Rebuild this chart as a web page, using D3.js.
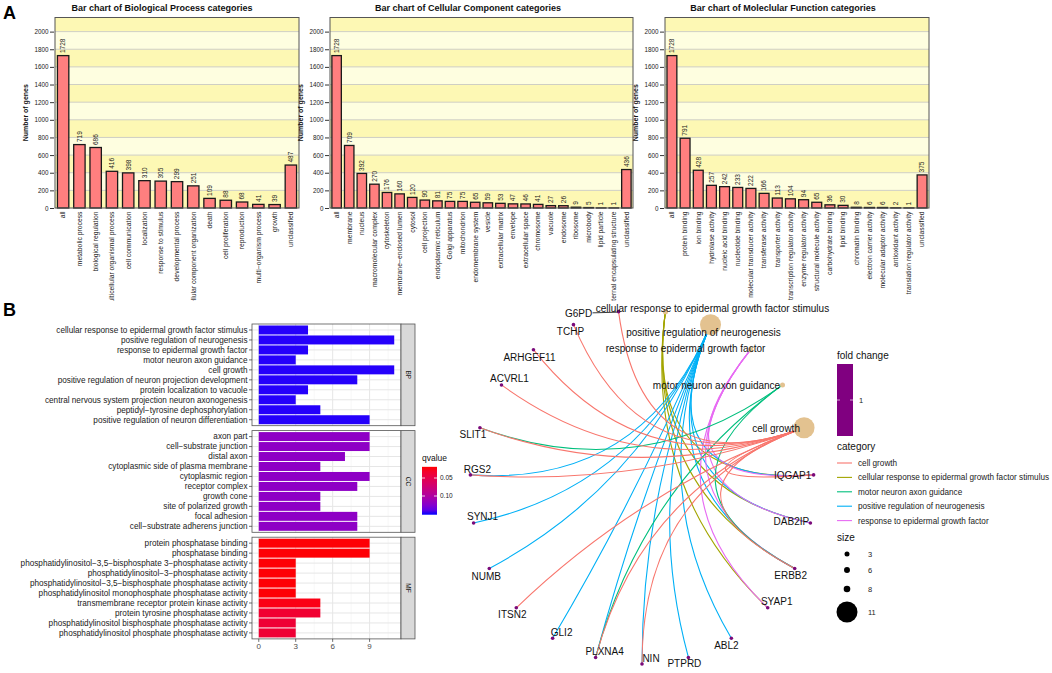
<!DOCTYPE html>
<html><head><meta charset="utf-8">
<script src="https://cdn.jsdelivr.net/npm/d3@7"></script>
<style>body{margin:0;background:#fff} svg{display:block;font-family:"Liberation Sans",Arial,Helvetica,sans-serif}</style>
</head><body><svg id="c" width="1052" height="673"></svg>
<script>
// ---------------- DATA: Panel A (GO slim category counts) ----------------
const bpCategories = ["all","metabolic process","biological regulation","multicellular organismal process","cell communication","localization","response to stimulus","developmental process","cellular component organization","death","cell proliferation","reproduction","multi\u2212organism process","growth","unclassified"];
const bpGeneCounts = [1728,719,686,416,398,310,305,299,251,109,88,68,41,39,487];

const ccCategories = ["all","membrane","nucleus","macromolecular complex","cytoskeleton","membrane\u2212enclosed lumen","cytosol","cell projection","endoplasmic reticulum","Golgi apparatus","mitochondrion","endomembrane system","vesicle","extracellular matrix","envelope","extracellular space","chromosome","vacuole","endosome","ribosome","microbody","lipid particle","external encapsulating structure","unclassified"];
const ccGeneCounts = [1728,709,392,270,176,160,120,90,81,75,75,65,59,53,47,46,41,27,26,9,5,1,1,436];

const mfCategories = ["all","protein binding","ion binding","hydrolase activity","nucleic acid binding","nucleotide binding","molecular transducer activity","transferase activity","transporter activity","transcription regulator activity","enzyme regulator activity","structural molecule activity","carbohydrate binding","lipid binding","chromatin binding","electron carrier activity","molecular adaptor activity","antioxidant activity","translation regulator activity","unclassified"];
const mfGeneCounts = [1728,791,428,257,242,233,222,166,113,104,94,65,36,30,8,6,6,2,1,375];

const goYTicks = [0,200,400,600,800,1000,1200,1400,1600,1800,2000];

// ---------------- DATA: Panel B enrichment bars ----------------
const enrichBPTerms = ["cellular response to epidermal growth factor stimulus","positive regulation of neurogenesis","response to epidermal growth factor","motor neuron axon guidance","cell growth","positive regulation of neuron projection development","protein localization to vacuole","central nervous system projection neuron axonogenesis","peptidyl\u2212tyrosine dephosphorylation","positive regulation of neuron differentiation"];
const enrichBPCounts = [4,11,4,3,11,8,4,3,5,9];
const enrichBPQ = [0.15,0.15,0.15,0.15,0.15,0.15,0.15,0.15,0.15,0.15];

const enrichCCTerms = ["axon part","cell\u2212substrate junction","distal axon","cytoplasmic side of plasma membrane","cytoplasmic region","receptor complex","growth cone","site of polarized growth","focal adhesion","cell\u2212substrate adherens junction"];
const enrichCCCounts = [9,9,7,5,9,8,5,5,8,8];
const enrichCCQ = [0.12,0.12,0.12,0.12,0.12,0.12,0.12,0.12,0.12,0.12];

const enrichMFTerms = ["protein phosphatase binding","phosphatase binding","phosphatidylinositol\u22123,5\u2212bisphosphate 3\u2212phosphatase activity","phosphatidylinositol\u22123\u2212phosphatase activity","phosphatidylinositol\u22123,5\u2212bisphosphate phosphatase activity","phosphatidylinositol monophosphate phosphatase activity","transmembrane receptor protein kinase activity","protein tyrosine phosphatase activity","phosphatidylinositol bisphosphate phosphatase activity","phosphatidylinositol phosphate phosphatase activity"];
const enrichMFCounts = [9,9,3,3,3,3,5,5,3,3];
const enrichMFQ = [0.02,0.02,0.02,0.02,0.02,0.02,0.024,0.036,0.038,0.038];

const countTicks = [0,3,6,9];
const qLegendTicks = [0.05,0.10];

// ---------------- DATA: Panel B gene-concept network ----------------
const netCategories = ["cellular response to epidermal growth factor stimulus","positive regulation of neurogenesis","response to epidermal growth factor","motor neuron axon guidance","cell growth"];
const netCategorySizes = [4,11,4,3,11];
const netGenes = ["IQGAP1","DAB2IP","ERBB2","SYAP1","ABL2","PTPRD","NIN","PLXNA4","GLI2","ITSN2","NUMB","SYNJ1","RGS2","SLIT1","ACVRL1","ARHGEF11","TCHP","G6PD"];
const genesEGFStimulus = ["IQGAP1","DAB2IP","ERBB2","SYAP1"];
const genesNeurogenesis = ["RGS2","SYNJ1","NUMB","GLI2","PLXNA4","NIN","PTPRD","ABL2","DAB2IP","ERBB2","IQGAP1"];
const genesResponseEGF = ["IQGAP1","DAB2IP","ERBB2","SYAP1"];
const genesMotorNeuron = ["SLIT1","PLXNA4","ERBB2"];
const genesCellGrowth = ["G6PD","TCHP","ARHGEF11","ACVRL1","SLIT1","RGS2","ITSN2","PLXNA4","NIN","IQGAP1","ERBB2"];
const netMembership = [genesEGFStimulus, genesNeurogenesis, genesResponseEGF, genesMotorNeuron, genesCellGrowth];
const sizeLegendValues = [3,6,8,11];
const foldChangeValue = 1;

// ---------------- layout helpers (label repel nudges) ----------------
const geneLabelNudge = {IQGAP1:[-21,0],DAB2IP:[-19,-2],ERBB2:[-4,7],SYAP1:[9,-6],ABL2:[-5,7],PTPRD:[-4,6],NIN:[9,-6],PLXNA4:[9,-6],GLI2:[9,-6],ITSN2:[-4,7],NUMB:[-3,8],SYNJ1:[9,-7],RGS2:[7,-6],SLIT1:[-7,7],ACVRL1:[8,-7],ARHGEF11:[-4,8],TCHP:[-3,7],G6PD:[-40,2]};
const catLabelNudge = [[47,-3],[-7,8],[-65,-1],[-66,0],[-28,1]];

const svg = d3.select("#c");
const defs = svg.append("defs");
defs.append("clipPath").attr("id","clipA").append("rect").attr("x",0).attr("y",0).attr("width",1052).attr("height",301);

// ================= PANEL A =================
const gA = svg.append("g").attr("clip-path","url(#clipA)");
const goY = d3.scaleLinear().domain([0,2160]).range([208,17.5]);
const stripeDark = "#fdf8b4", stripeLight = "#fefee0";

function goChart(cats, vals, x0, x1, pad, title, titleX) {
  const g = gA.append("g");
  const x = d3.scaleBand().domain(cats).range([x0,x1]).paddingInner(pad).paddingOuter(0.15);
  const breaks = d3.range(0,2160,200);
  g.selectAll("rect.band").data(breaks).join("rect")
    .attr("x",x0).attr("width",x1-x0)
    .attr("y",d=>goY(Math.min(d+200,2160)))
    .attr("height",d=>goY(d)-goY(Math.min(d+200,2160)))
    .attr("fill",(d,i)=> i%2===0 ? stripeDark : stripeLight);
  g.selectAll("line.grid").data(goYTicks.slice(1)).join("line")
    .attr("x1",x0).attr("x2",x1).attr("y1",d=>goY(d)).attr("y2",d=>goY(d))
    .attr("stroke","#cfcfc4").attr("stroke-width",1);
  g.selectAll("rect.bar").data(vals).join("rect")
    .attr("x",(d,i)=>x(cats[i])).attr("width",x.bandwidth())
    .attr("y",d=>goY(d)).attr("height",d=>goY(0)-goY(d))
    .attr("fill","#ff7f7f").attr("stroke","#1a1a1a").attr("stroke-width",1.3);
  g.selectAll("text.val").data(vals).join("text")
    .attr("transform",(d,i)=>`translate(${x(cats[i])+x.bandwidth()/2+2.3},${goY(d)-2.5}) rotate(-90)`)
    .attr("font-size",6.5).attr("fill","#222").text(d=>d);
  g.append("rect").attr("x",x0).attr("y",17.5).attr("width",x1-x0).attr("height",208-17.5)
    .attr("fill","none").attr("stroke","#555").attr("stroke-width",1);
  const ax = g.append("g").attr("transform",`translate(${x0-1},0)`)
    .call(d3.axisLeft(goY).tickValues(goYTicks).tickFormat(d3.format("d")).tickSize(4).tickPadding(1.5));
  ax.select(".domain").remove();
  ax.selectAll("line").attr("stroke","#333");
  ax.selectAll("text").attr("font-size",6.3).attr("fill","#222").attr("font-family",null);
  g.selectAll("text.xl").data(cats).join("text")
    .attr("transform",d=>`translate(${x(d)+x.bandwidth()/2+2.3},211.5) rotate(-90)`)
    .attr("text-anchor","end").attr("font-size",6.8).attr("fill","#222").text(d=>d);
  g.append("text").attr("x",titleX).attr("y",11).attr("text-anchor","middle")
    .attr("font-size",9).attr("font-weight","bold").attr("fill","#111").text(title);
  g.append("text").attr("transform",`translate(${x0-27},${(17.5+208)/2}) rotate(-90)`)
    .attr("text-anchor","middle").attr("font-size",7).attr("font-weight","bold").attr("fill","#111")
    .text("Number of genes");
}
goChart(bpCategories,bpGeneCounts,55,299,0.3,"Bar chart of Biological Process categories",162);
goChart(ccCategories,ccGeneCounts,330,633,0.25,"Bar chart of Cellular Component categories",468);
goChart(mfCategories,mfGeneCounts,665,929,0.25,"Bar chart of Moleclular Function categories",783);

svg.append("text").attr("x",3).attr("y",18.5).attr("font-size",18).attr("font-weight","bold").text("A");
svg.append("text").attr("x",3).attr("y",316).attr("font-size",18).attr("font-weight","bold").text("B");

// ================= PANEL B: enrichment bar chart =================
const gB = svg.append("g");
const bx = d3.scaleLinear().domain([-0.55,11.55]).range([252,401]);
const qColor = d3.scaleLinear().domain([0.019,0.152]).range(["#ff0000","#0000ff"]).interpolate(d3.interpolateLab);
const facets = [
  {name:"BP",terms:enrichBPTerms,counts:enrichBPCounts,q:enrichBPQ},
  {name:"CC",terms:enrichCCTerms,counts:enrichCCCounts,q:enrichCCQ},
  {name:"MF",terms:enrichMFTerms,counts:enrichMFCounts,q:enrichMFQ}
];
const facetTop = 324, facetH = 101.7, facetGap = 4.9;
facets.forEach((f,k)=>{
  const top = facetTop + k*(facetH+facetGap), bot = top + facetH;
  const g = gB.append("g");
  const y = d3.scaleBand().domain(f.terms).range([top,bot]).paddingInner(0.1).paddingOuter(0.15);
  g.append("rect").attr("x",bx.range()[0]).attr("y",top).attr("width",bx.range()[1]-bx.range()[0]).attr("height",facetH).attr("fill","#fff");
  g.selectAll("line.mn").data([1.5,4.5,7.5,10.5]).join("line")
    .attr("x1",d=>bx(d)).attr("x2",d=>bx(d)).attr("y1",top).attr("y2",bot)
    .attr("stroke","#f2f2f2").attr("stroke-width",0.6);
  g.selectAll("line.mj").data(countTicks).join("line")
    .attr("x1",d=>bx(d)).attr("x2",d=>bx(d)).attr("y1",top).attr("y2",bot)
    .attr("stroke","#e6e6e6").attr("stroke-width",1);
  g.selectAll("line.hz").data(f.terms).join("line")
    .attr("x1",bx.range()[0]).attr("x2",bx.range()[1]).attr("y1",d=>y(d)+y.bandwidth()/2).attr("y2",d=>y(d)+y.bandwidth()/2)
    .attr("stroke","#e6e6e6").attr("stroke-width",1);
  g.selectAll("rect.b").data(f.counts).join("rect")
    .attr("x",bx(0)).attr("y",(d,i)=>y(f.terms[i])).attr("height",y.bandwidth())
    .attr("width",d=>bx(d)-bx(0)).attr("fill",(d,i)=>qColor(f.q[i]));
  g.append("rect").attr("x",bx.range()[0]).attr("y",top).attr("width",bx.range()[1]-bx.range()[0]).attr("height",facetH)
    .attr("fill","none").attr("stroke","#555").attr("stroke-width",0.8);
  g.append("rect").attr("x",401).attr("y",top).attr("width",14).attr("height",facetH)
    .attr("fill","#d9d9d9").attr("stroke","#555").attr("stroke-width",0.8);
  g.append("text").attr("transform",`translate(${405.5},${top+facetH/2}) rotate(90)`)
    .attr("text-anchor","middle").attr("font-size",6.5).attr("fill","#1a1a1a").text(f.name);
  g.selectAll("line.tk").data(f.terms).join("line")
    .attr("x1",249).attr("x2",252).attr("y1",d=>y(d)+y.bandwidth()/2).attr("y2",d=>y(d)+y.bandwidth()/2)
    .attr("stroke","#333").attr("stroke-width",0.7);
  g.selectAll("text.tl").data(f.terms).join("text")
    .attr("x",247.5).attr("y",d=>y(d)+y.bandwidth()/2+2.9)
    .attr("text-anchor","end").attr("font-size",8.2).attr("fill","#1a1a1a").text(d=>d);
  if (k===2) {
    g.selectAll("line.xt").data(countTicks).join("line")
      .attr("x1",d=>bx(d)).attr("x2",d=>bx(d)).attr("y1",bot).attr("y2",bot+3)
      .attr("stroke","#333").attr("stroke-width",0.7);
    g.selectAll("text.xt").data(countTicks).join("text")
      .attr("x",d=>bx(d)).attr("y",bot+10).attr("text-anchor","middle")
      .attr("font-size",8).attr("fill","#4d4d4d").text(d=>d);
  }
});
const qY = d3.scaleLinear().domain([0.05,0.10]).range([478,496]);
const qGrad = defs.append("linearGradient").attr("id","qgrad").attr("x1",0).attr("x2",0).attr("y1",0).attr("y2",1);
d3.range(0,1.001,0.1).forEach(t=>qGrad.append("stop").attr("offset",t).attr("stop-color",qColor(qColor.domain()[0]+t*(qColor.domain()[1]-qColor.domain()[0]))));
gB.append("text").attr("x",422).attr("y",461).attr("font-size",8.5).attr("fill","#111").text("qvalue");
gB.append("rect").attr("x",422).attr("y",qY(qColor.domain()[0])).attr("width",15)
  .attr("height",qY(qColor.domain()[1])-qY(qColor.domain()[0])).attr("fill","url(#qgrad)");
qLegendTicks.forEach(v=>{
  gB.append("line").attr("x1",422).attr("x2",425).attr("y1",qY(v)).attr("y2",qY(v)).attr("stroke","#fff").attr("stroke-width",0.8);
  gB.append("line").attr("x1",434).attr("x2",437).attr("y1",qY(v)).attr("y2",qY(v)).attr("stroke","#fff").attr("stroke-width",0.8);
  gB.append("text").attr("x",440).attr("y",qY(v)+2.3).attr("font-size",6.5).attr("fill","#222").text(v.toFixed(2));
});

// ================= PANEL B: cnet plot =================
const gN = svg.append("g");
const netNodes = netCategories.map((c,i)=>({name:c,type:"cat",idx:i})).concat(netGenes.map(g=>({name:g,type:"gene"})));
const nNodes = netNodes.length;
const angle = d3.scaleLinear().domain([0,nNodes]).range([0,2*Math.PI]);
const ncx = 642, ncy = 487, nrx = 172, nry = 177;
const nx = d3.scaleLinear().domain([-1,1]).range([ncx-nrx,ncx+nrx]);
const ny = d3.scaleLinear().domain([-1,1]).range([ncy+nry,ncy-nry]);
netNodes.forEach((n,i)=>{ const a = angle(i+0.5); n.x = nx(Math.sin(a)); n.y = ny(Math.cos(a)); });
const nodeByName = new Map(netNodes.map(n=>[n.name,n]));
const catColors = ["#F8766D","#A3A500","#00BF7D","#00B0F6","#E76BF3"];
const legendOrder = ["cell growth","cellular response to epidermal growth factor stimulus","motor neuron axon guidance","positive regulation of neurogenesis","response to epidermal growth factor"];
const catColor = d3.scaleOrdinal().domain(legendOrder).range(catColors);
const edges = [];
netCategories.forEach((c,i)=>netMembership[i].forEach(gname=>edges.push({source:nodeByName.get(c),target:nodeByName.get(gname),cat:c})));
gN.selectAll("path.e").data(edges).join("path")
  .attr("d",d=>{const p=d3.path(); p.moveTo(d.source.x,d.source.y); p.quadraticCurveTo(ncx,ncy,d.target.x,d.target.y); return p.toString();})
  .attr("fill","none").attr("stroke",d=>catColor(d.cat)).attr("stroke-width",1.1);
const sizeScale = d3.scaleLinear().domain([3,8,11]).range([2.5,3.3,10.5]);
const g6 = nodeByName.get("G6PD");
gN.append("line").attr("x1",g6.x+geneLabelNudge.G6PD[0]+14).attr("y1",g6.y+1.2).attr("x2",g6.x).attr("y2",g6.y+0.5)
  .attr("stroke","#222").attr("stroke-width",0.9);
netNodes.filter(n=>n.type==="cat").forEach(n=>{
  gN.append("circle").attr("cx",n.x).attr("cy",n.y).attr("r",sizeScale(netCategorySizes[n.idx])).attr("fill","#e3c290");
});
netNodes.filter(n=>n.type==="gene").forEach(n=>{
  gN.append("circle").attr("cx",n.x).attr("cy",n.y).attr("r",1.8).attr("fill","#7a0a7a");
});
netNodes.forEach(n=>{
  const nd = n.type==="gene" ? geneLabelNudge[n.name] : catLabelNudge[n.idx];
  gN.append("text").attr("x",n.x+nd[0]).attr("y",n.y+nd[1]+3.6).attr("text-anchor","middle")
    .attr("font-size",10).attr("fill","#111").text(n.name);
});

const lg = svg.append("g");
lg.append("text").attr("x",837).attr("y",359).attr("font-size",10).attr("fill","#111").text("fold change");
lg.append("rect").attr("x",837).attr("y",364).attr("width",16).attr("height",72).attr("fill","#800080");
lg.append("line").attr("x1",837).attr("x2",840).attr("y1",400).attr("y2",400).attr("stroke","#e9c9e9").attr("stroke-width",0.8);
lg.append("line").attr("x1",850).attr("x2",853).attr("y1",400).attr("y2",400).attr("stroke","#e9c9e9").attr("stroke-width",0.8);
lg.append("text").attr("x",859).attr("y",403).attr("font-size",7.5).attr("fill","#222").text(foldChangeValue);
lg.append("text").attr("x",837).attr("y",450).attr("font-size",10).attr("fill","#111").text("category");
legendOrder.forEach((c,i)=>{
  const yy = 463 + i*14.4;
  lg.append("line").attr("x1",837).attr("x2",852).attr("y1",yy).attr("y2",yy).attr("stroke",catColor(c)).attr("stroke-width",1.1);
  lg.append("text").attr("x",858).attr("y",yy+2.9).attr("font-size",8.2).attr("fill","#222").text(c);
});
lg.append("text").attr("x",837).attr("y",541).attr("font-size",10).attr("fill","#111").text("size");
const sizeKeyY = [554,570,589,612];
sizeLegendValues.forEach((v,i)=>{
  lg.append("circle").attr("cx",847).attr("cy",sizeKeyY[i]).attr("r",sizeScale(v)).attr("fill","#000");
  lg.append("text").attr("x",868).attr("y",sizeKeyY[i]+2.7).attr("font-size",7.5).attr("fill","#222").text(v);
});
</script></body></html>
